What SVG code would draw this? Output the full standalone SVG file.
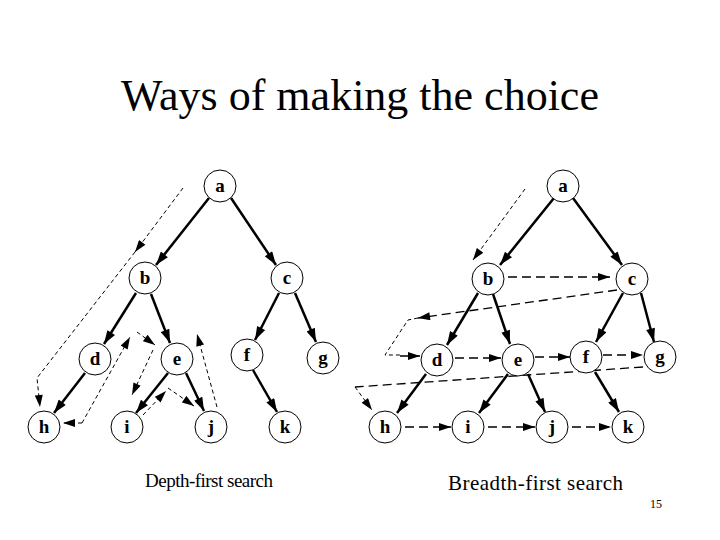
<svg xmlns="http://www.w3.org/2000/svg" width="720" height="540" viewBox="0 0 720 540">
<defs>
<marker id="ah" viewBox="0 0 12 8" refX="12" refY="4" markerWidth="15" markerHeight="9" markerUnits="userSpaceOnUse" orient="auto"><path d="M0,0L12,4L0,8z" fill="#000"/></marker>
<marker id="as" viewBox="0 0 12 8" refX="12" refY="4" markerWidth="13" markerHeight="8" markerUnits="userSpaceOnUse" orient="auto"><path d="M0,0L12,4L0,8z" fill="#000"/></marker>
</defs>
<style>
circle{fill:#fff;stroke:#000;stroke-width:1}
.n text{font-family:"Liberation Serif",serif;font-weight:bold;font-size:19px;text-anchor:middle}
.t{stroke:#000;stroke-width:2.5;fill:none;marker-end:url(#ah)}
.d{stroke:#000;stroke-width:1;fill:none;stroke-dasharray:4,3}
.da{stroke:#000;stroke-width:1;fill:none;stroke-dasharray:4,3;marker-end:url(#as)}
.b{stroke:#000;stroke-width:1.3;fill:none;stroke-dasharray:9,5;marker-end:url(#as)}
.bl{stroke:#000;stroke-width:1.3;fill:none;stroke-dasharray:9,5}
.lbl{font-family:"Liberation Serif",serif}
</style>
<rect width="720" height="540" fill="#fff"/>
<text x="360" y="110" font-family="Liberation Serif,serif" font-size="44" text-anchor="middle">Ways of making the choice</text>
<g id="connectors">
<line class="t" x1="209" y1="198" x2="156" y2="265"/>
<line class="t" x1="231" y1="198" x2="276" y2="265"/>
<line class="t" x1="136" y1="293" x2="104" y2="344"/>
<line class="t" x1="151" y1="294" x2="170" y2="343"/>
<line class="t" x1="279" y1="293" x2="255" y2="340"/>
<line class="t" x1="295" y1="293" x2="316" y2="342"/>
<line class="t" x1="85" y1="373" x2="54" y2="413"/>
<line class="t" x1="168" y1="373" x2="136" y2="413"/>
<line class="t" x1="186" y1="373" x2="204" y2="411"/>
<line class="t" x1="253" y1="370" x2="277" y2="412"/>
<line class="da" x1="183" y1="188" x2="135" y2="252"/>
<polyline class="da" points="135,252 37,378 40,407"/>
<line class="da" x1="82" y1="423" x2="63" y2="423"/>
<line class="da" x1="82" y1="423" x2="130" y2="337"/>
<line class="da" x1="137" y1="332" x2="155" y2="345"/>
<line class="da" x1="153" y1="350" x2="132" y2="395"/>
<line class="da" x1="143" y1="415" x2="166" y2="391"/>
<line class="da" x1="168" y1="388" x2="194" y2="406"/>
<line class="da" x1="217" y1="407" x2="197" y2="334"/>

<line class="t" x1="554" y1="198" x2="500" y2="265"/>
<line class="t" x1="573" y1="198" x2="622" y2="265"/>
<line class="t" x1="478" y1="293" x2="447" y2="345"/>
<line class="t" x1="493" y1="294" x2="510" y2="344"/>
<line class="t" x1="623" y1="293" x2="596" y2="342"/>
<line class="t" x1="641" y1="293" x2="654" y2="342"/>
<line class="t" x1="426" y1="374" x2="397" y2="413"/>
<line class="t" x1="508" y1="374" x2="479" y2="413"/>
<line class="t" x1="528" y1="374" x2="545" y2="412"/>
<line class="t" x1="595" y1="372" x2="619" y2="412"/>
<line class="da" x1="525" y1="189" x2="473" y2="260"/>
<line class="b" x1="508" y1="277" x2="610" y2="277"/>
<line class="b" x1="617" y1="290" x2="418" y2="318"/>
<polyline class="d" points="418,318 408,320 385,355 400,355"/>
<line class="b" x1="400" y1="356" x2="420" y2="356"/>
<line class="b" x1="455" y1="358" x2="501" y2="358"/>
<line class="b" x1="535" y1="357" x2="570" y2="357"/>
<line class="b" x1="603" y1="355" x2="643" y2="355"/>
<polyline class="bl" points="643,367 600,370 355,387"/>
<line class="da" x1="355" y1="387" x2="372" y2="410"/>
<line class="b" x1="405" y1="427" x2="451" y2="427"/>
<line class="b" x1="488" y1="427" x2="535" y2="427"/>
<line class="b" x1="572" y1="427" x2="611" y2="427"/>
</g>
<g id="dfs" class="n">
<g id="dfs-a"><circle cx="220" cy="186" r="16"/><text x="220" y="192">a</text></g>
<g id="dfs-b"><circle cx="145" cy="278" r="16"/><text x="145" y="284">b</text></g>
<g id="dfs-c"><circle cx="287" cy="278" r="16"/><text x="287" y="284">c</text></g>
<g id="dfs-d"><circle cx="95" cy="359" r="16"/><text x="95" y="365">d</text></g>
<g id="dfs-e"><circle cx="177" cy="359" r="16"/><text x="177" y="365">e</text></g>
<g id="dfs-f"><circle cx="247" cy="355" r="16"/><text x="247" y="361">f</text></g>
<g id="dfs-g"><circle cx="323" cy="358" r="16"/><text x="323" y="364">g</text></g>
<g id="dfs-h"><circle cx="44" cy="427" r="16"/><text x="44" y="433">h</text></g>
<g id="dfs-i"><circle cx="127" cy="427" r="16"/><text x="127" y="433">i</text></g>
<g id="dfs-j"><circle cx="211" cy="427" r="16"/><text x="211" y="433">j</text></g>
<g id="dfs-k"><circle cx="285" cy="427" r="16"/><text x="285" y="433">k</text></g>
</g>
<g id="bfs" class="n">
<g id="bfs-a"><circle cx="563" cy="186" r="16"/><text x="563" y="192">a</text></g>
<g id="bfs-b"><circle cx="488" cy="279" r="16"/><text x="488" y="285">b</text></g>
<g id="bfs-c"><circle cx="632" cy="279" r="16"/><text x="632" y="285">c</text></g>
<g id="bfs-d"><circle cx="437" cy="360" r="16"/><text x="437" y="366">d</text></g>
<g id="bfs-e"><circle cx="518" cy="360" r="16"/><text x="518" y="366">e</text></g>
<g id="bfs-f"><circle cx="586" cy="357" r="16"/><text x="586" y="363">f</text></g>
<g id="bfs-g"><circle cx="660" cy="357" r="16"/><text x="660" y="363">g</text></g>
<g id="bfs-h"><circle cx="385" cy="427" r="16"/><text x="385" y="433">h</text></g>
<g id="bfs-i"><circle cx="468" cy="427" r="16"/><text x="468" y="433">i</text></g>
<g id="bfs-j"><circle cx="552" cy="427" r="16"/><text x="552" y="433">j</text></g>
<g id="bfs-k"><circle cx="628" cy="427" r="16"/><text x="628" y="433">k</text></g>
</g>
<text class="lbl" x="145" y="487" font-size="19" textLength="128">Depth-first search</text>
<text class="lbl" x="448" y="490" font-size="21" textLength="175">Breadth-first search</text>
<text x="650" y="508" font-family="Liberation Serif,serif" font-size="12">15</text>
</svg>
